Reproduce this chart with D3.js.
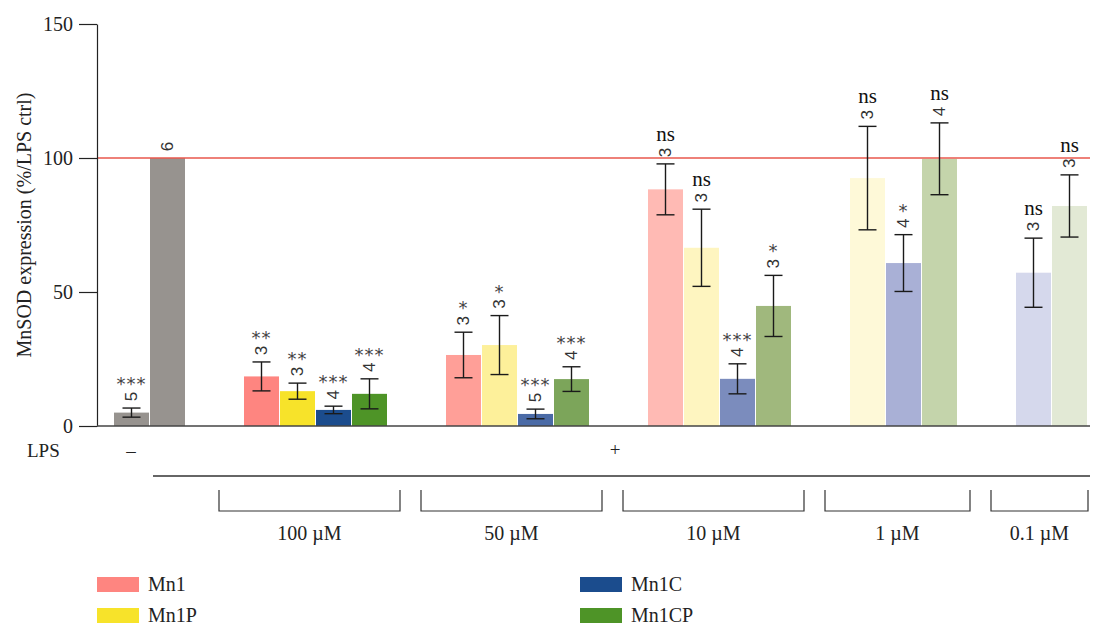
<!DOCTYPE html>
<html>
<head>
<meta charset="utf-8">
<script src="https://cdn.jsdelivr.net/npm/d3@7"></script>
<style>
  body { margin: 0; background: #fff; }
  text { font-family: "Liberation Serif", "DejaVu Serif", serif; }
</style>
</head>
<body>
<svg id="chart" width="1093" height="628"></svg>
<script>
// data
var concLabels = ["100 µM", "50 µM", "10 µM", "1 µM", "0.1 µM"];
var compounds = ["Mn1", "Mn1P", "Mn1C", "Mn1CP"];
var yTicks = [0, 50, 100, 150];

// LPS -, LPS + ctrl
var ctrlMean = [5, 100];
var ctrlErr = [1.7, 0];
var ctrlN = [5, 6];
var ctrlSig = ["***", ""];

var mn1Mean = [18.5, 26.5, 88.3, null, null];
var mn1Err = [5.4, 8.5, 9.5, null, null];
var mn1N = [3, 3, 3, null, null];
var mn1Sig = ["**", "*", "ns", null, null];

var mn1pMean = [13, 30.2, 66.5, 92.5, null];
var mn1pErr = [3, 11, 14.4, 19.3, null];
var mn1pN = [3, 3, 3, 3, null];
var mn1pSig = ["**", "*", "ns", "ns", null];

var mn1cMean = [6, 4.5, 17.6, 60.8, 57.2];
var mn1cErr = [1.4, 1.8, 5.6, 10.6, 12.9];
var mn1cN = [4, 5, 4, 4, 3];
var mn1cSig = ["***", "***", "***", "*", "ns"];

var mn1cpMean = [12, 17.5, 44.8, 99.7, 82.1];
var mn1cpErr = [5.6, 4.6, 11.4, 13.4, 11.6];
var mn1cpN = [4, 4, 3, 4, 3];
var mn1cpSig = ["***", "***", "*", "ns", "ns"];

// colours fade with concentration
var ctrlColor = "#97938f";
var shades = {
  Mn1:   ["#fe8580", "#ff9f98", "#ffbab4", null, null],
  Mn1P:  ["#f7e32a", "#fdf09a", "#fef5c0", "#fef9d8", null],
  Mn1C:  ["#1b4c8d", "#4a6aa6", "#7b8cbd", "#a9b0d6", "#d5d8ec"],
  Mn1CP: ["#4e9427", "#7ca55a", "#a0b87d", "#c4d4ab", "#e2e9d5"]
};
var series = {
  Mn1:   { mean: mn1Mean, err: mn1Err, n: mn1N, sig: mn1Sig },
  Mn1P:  { mean: mn1pMean, err: mn1pErr, n: mn1pN, sig: mn1pSig },
  Mn1C:  { mean: mn1cMean, err: mn1cErr, n: mn1cN, sig: mn1cSig },
  Mn1CP: { mean: mn1cpMean, err: mn1cpErr, n: mn1cpN, sig: mn1cpSig }
};

var svg = d3.select("#chart");
var x0 = 97, y0 = 426, xEnd = 1090;

// build bar list, slot units (one unit per bar, extra gap between groups)
var gapU = 58 / 36;
var bars = [];
var slot = 0;
ctrlMean.forEach(function (m, i) {
  bars.push({ u: slot, group: 0, mean: m, err: ctrlErr[i], n: ctrlN[i], sig: ctrlSig[i], color: ctrlColor });
  slot++;
});
var groupRange = [];
concLabels.forEach(function (c, gi) {
  var first = null, last = null;
  compounds.forEach(function (k) {
    var s = series[k];
    if (s.mean[gi] == null) return;
    var u = slot + (gi + 1) * gapU;
    if (first == null) first = u;
    last = u;
    bars.push({ u: u, group: gi + 1, mean: s.mean[gi], err: s.err[gi], n: s.n[gi], sig: s.sig[gi], color: shades[k][gi] });
    slot++;
  });
  groupRange.push([first, last + 1]);
});
var totalU = slot + concLabels.length * gapU;

var x = d3.scaleLinear().domain([0, totalU]).range([114, 1088]);
var y = d3.scaleLinear().domain([0, 150]).range([y0, 24]);
var bw = x(1) - x(0) - 1;

// bars
svg.selectAll("rect.bar")
  .data(bars)
  .enter()
  .append("rect")
  .attr("class", "bar")
  .attr("x", function (d) { return x(d.u); })
  .attr("y", function (d) { return y(d.mean); })
  .attr("width", bw)
  .attr("height", function (d) { return y0 - y(d.mean); })
  .attr("fill", function (d) { return d.color; });

// reference line at 100
svg.append("line")
  .attr("x1", x0).attr("x2", xEnd)
  .attr("y1", y(100)).attr("y2", y(100))
  .attr("stroke", "#e8574d").attr("stroke-width", 1.4);

// error bars
var eb = svg.selectAll("g.err")
  .data(bars.filter(function (d) { return d.err > 0; }))
  .enter()
  .append("g")
  .attr("stroke", "#1a1a1a")
  .attr("stroke-width", 1.4);
eb.append("line")
  .attr("x1", function (d) { return x(d.u) + bw / 2; })
  .attr("x2", function (d) { return x(d.u) + bw / 2; })
  .attr("y1", function (d) { return y(d.mean + d.err); })
  .attr("y2", function (d) { return y(d.mean - d.err); });
eb.selectAll("line.cap")
  .data(function (d) { return [d.mean + d.err, d.mean - d.err].map(function (v) { return { d: d, v: v }; }); })
  .enter()
  .append("line")
  .attr("class", "cap")
  .attr("x1", function (c) { return x(c.d.u) + bw / 2 - 9; })
  .attr("x2", function (c) { return x(c.d.u) + bw / 2 + 9; })
  .attr("y1", function (c) { return y(c.v); })
  .attr("y2", function (c) { return y(c.v); });

// n labels (rotated) and significance marks
function topOf(d) { return y(d.mean + d.err); }
svg.selectAll("text.n")
  .data(bars)
  .enter()
  .append("text")
  .attr("transform", function (d) {
    return "translate(" + (x(d.u) + bw / 2) + "," + (topOf(d) - 11.5) + ") rotate(-90)";
  })
  .attr("text-anchor", "middle")
  .attr("dominant-baseline", "central")
  .style("font-family", "'Liberation Sans', Arial, sans-serif")
  .style("font-size", "17px")
  .attr("fill", "#333")
  .text(function (d) { return d.n; });

svg.selectAll("text.sig")
  .data(bars.filter(function (d) { return d.sig; }))
  .enter()
  .append("text")
  .attr("x", function (d) { return x(d.u) + bw / 2; })
  .attr("y", function (d) { return topOf(d) - (d.sig == "ns" ? 23 : 18); })
  .attr("text-anchor", "middle")
  .style("font-family", function (d) { return d.sig == "ns" ? null : "'DejaVu Sans', sans-serif"; })
  .style("font-size", function (d) { return d.sig == "ns" ? "21px" : "18px"; })
  .style("letter-spacing", function (d) { return d.sig == "ns" ? null : "1px"; })
  .attr("fill", function (d) { return d.sig == "ns" ? "#111" : "#444"; })
  .text(function (d) { return d.sig; });

// y axis
var yAxis = d3.axisLeft(y).tickValues(yTicks).tickSize(18).tickSizeOuter(0).tickPadding(6);
var ga = svg.append("g").attr("transform", "translate(" + x0 + ",0)").call(yAxis);
ga.selectAll("path, line").attr("stroke", "#222").attr("stroke-width", 1.2);
ga.selectAll("text")
  .style("font-family", "'Liberation Serif', serif")
  .style("font-size", "20px")
  .attr("fill", "#222");

svg.append("text")
  .attr("transform", "translate(24,225) rotate(-90)")
  .attr("text-anchor", "middle")
  .attr("dominant-baseline", "central")
  .style("font-size", "20px")
  .attr("fill", "#222")
  .text("MnSOD expression (%/LPS ctrl)");

// baseline
svg.append("line")
  .attr("x1", x0).attr("x2", xEnd)
  .attr("y1", y0).attr("y2", y0)
  .attr("stroke", "#444").attr("stroke-width", 1.5);

// LPS row
svg.append("text").attr("x", 27).attr("y", 457).style("font-size", "19px").attr("fill", "#222").text("LPS");
svg.append("text").attr("x", 131).attr("y", 457).attr("text-anchor", "middle").style("font-size", "19px").attr("fill", "#222").text("–");
svg.append("text").attr("x", 615).attr("y", 456).attr("text-anchor", "middle").style("font-size", "19px").attr("fill", "#222").text("+");
svg.append("line")
  .attr("x1", 153).attr("x2", xEnd)
  .attr("y1", 476).attr("y2", 476)
  .attr("stroke", "#333").attr("stroke-width", 1.6);

// concentration brackets
var br = svg.selectAll("g.br")
  .data(concLabels.map(function (c, i) { return { label: c, r: groupRange[i] }; }))
  .enter()
  .append("g");
function bl(d) { return x(d.r[0]) - 25; }
function brr(d) { return Math.min(x(d.r[1]) + 12, 1088); }
br.append("path")
  .attr("d", function (d) {
    return "M" + bl(d) + ",490V511H" + brr(d) + "V490";
  })
  .attr("fill", "none")
  .attr("stroke", "#333")
  .attr("stroke-width", 1.2);
br.append("text")
  .attr("x", function (d) { return (bl(d) + brr(d)) / 2; })
  .attr("y", 540)
  .attr("text-anchor", "middle")
  .style("font-size", "20px")
  .attr("fill", "#222")
  .text(function (d) { return d.label; });

// legend
var legPos = [[97, 577], [97, 608], [580, 577], [580, 608]];
var leg = svg.selectAll("g.leg")
  .data(compounds)
  .enter()
  .append("g")
  .attr("transform", function (d, i) { return "translate(" + legPos[i][0] + "," + legPos[i][1] + ")"; });
leg.append("rect")
  .attr("width", 42).attr("height", 15)
  .attr("fill", function (d) { return shades[d][0]; });
leg.append("text")
  .attr("x", 51).attr("y", 14)
  .style("font-size", "20px")
  .attr("fill", "#222")
  .text(function (d) { return d; });
</script>
</body>
</html>
